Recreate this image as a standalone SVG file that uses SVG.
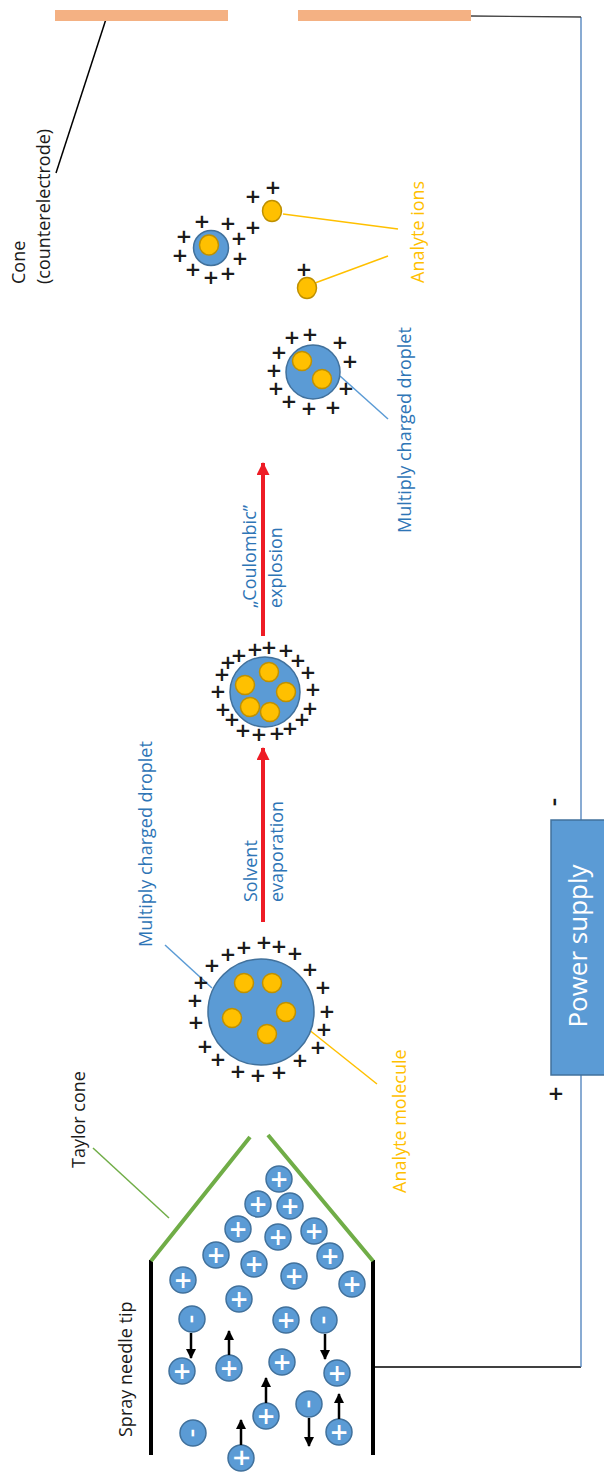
<svg xmlns="http://www.w3.org/2000/svg" width="604" height="1474" viewBox="0 0 604 1474">
  <style>
    .lbl { font-family: "Open Sans", "Liberation Sans", sans-serif; font-size: 18px; }
    .big { font-size: 26px; fill: #ffffff; text-anchor: middle; }
    .blue { fill: #2e75b6; }
    .gold { fill: #ffc000; }
    .dark { fill: #1a1a1a; }
    .drop { fill: #5b9bd5; stroke: #41719c; stroke-width: 1.5; }
    .mol { fill: #ffc000; stroke: #bf9000; stroke-width: 1.5; }
    .ion { fill: #5b9bd5; stroke: #41719c; stroke-width: 1.5; }
    .chg { font-family: "Open Sans", "Liberation Sans", sans-serif; font-size: 26px; font-weight: 600; fill: #1a1a1a; text-anchor: middle; }
    .ichg { font-family: "Open Sans", "Liberation Sans", sans-serif; font-size: 30px; font-weight: 600; fill: #ffffff; text-anchor: middle; }
    .imin { font-family: "Open Sans", "Liberation Sans", sans-serif; font-size: 26px; font-weight: 600; fill: #ffffff; text-anchor: middle; }
    .ptr { fill: none; stroke-width: 1.5; }
    .wire { fill: none; stroke-width: 1.3; }
    .move { stroke: #000; stroke-width: 2.5; marker-end: url(#headBlack); }
    .step { stroke: #ee1c25; stroke-width: 4; marker-end: url(#headRed); }
  </style>
  <defs>
    <marker id="headBlack" markerUnits="userSpaceOnUse" markerWidth="10" markerHeight="10" refX="9" refY="5" orient="auto">
      <path d="M0,0 L10,5 L0,10 z" fill="#000"/>
    </marker>
    <marker id="headRed" markerUnits="userSpaceOnUse" markerWidth="13" markerHeight="13" refX="12" refY="6.5" orient="auto">
      <path d="M0,0 L13,6.5 L0,13 z" fill="#ee1c25"/>
    </marker>
  </defs>

  <rect width="604" height="1474" fill="#ffffff"/>

  <!-- connectors: wires, leader lines and process arrows -->
  <g id="connectors">
    <path class="wire" stroke="#000" d="M373,1367 H581"/>
    <path class="wire" stroke="#4a7ebb" d="M581,1367 V17"/>
    <path class="wire" stroke="#404040" d="M471,16 L581,17"/>
    <path class="ptr" stroke="#000" stroke-width="1" d="M56,173 L107,16"/>
    <path class="ptr" stroke="#70ad47" d="M93,1148 L169,1218"/>
    <path class="ptr" stroke="#5b9bd5" d="M165,945 L212,988"/>
    <path class="ptr" stroke="#5b9bd5" d="M340,376 L388,419"/>
    <path class="ptr" stroke="#ffc000" d="M293,1017 L377,1084"/>
    <path class="ptr" stroke="#ffc000" stroke-width="2" d="M283,214 L398,229"/>
    <path class="ptr" stroke="#ffc000" stroke-width="2" d="M315,283 L388,256"/>
    <line class="step" x1="263" y1="922" x2="263" y2="748"/>
    <line class="step" x1="263" y1="636" x2="263" y2="463"/>
  </g>

  <!-- counter electrode (cone) -->
  <g id="cone">
    <rect x="55" y="10" width="173" height="11" fill="#f4b183"/>
    <rect x="298" y="10" width="173" height="11" fill="#f4b183"/>
    <text class="lbl dark" transform="translate(25,284) rotate(-90)">Cone</text>
    <text class="lbl dark" transform="translate(50,284) rotate(-90)">(counterelectrode)</text>
  </g>

  <!-- power supply -->
  <g id="power-supply">
    <rect x="551" y="820" width="60" height="255" fill="#5b9bd5" stroke="#41719c" stroke-width="1.5"/>
    <text class="lbl big" transform="translate(587,946) rotate(-90)">Power supply</text>
    <text class="chg" transform="translate(562,802) rotate(-90)">-</text>
    <text class="chg" x="556" y="1103">+</text>
  </g>

  <!-- spray needle with Taylor cone -->
  <g id="needle">
    <line x1="151" y1="1260" x2="151" y2="1455" stroke="#000" stroke-width="4"/>
    <line x1="373" y1="1260" x2="373" y2="1455" stroke="#000" stroke-width="4"/>
    <text class="lbl dark" transform="translate(132,1437) rotate(-90)">Spray needle tip</text>
  </g>
  <g id="taylor-cone">
    <path d="M151,1261 L250,1137 M268,1135 L373,1261" stroke="#70ad47" stroke-width="4" fill="none"/>
    <text class="lbl dark" transform="translate(85,1168) rotate(-90)">Taylor cone</text>
  </g>

  <!-- ions in the liquid -->
  <g id="solution-ions">
    <g>
      <circle class="ion" cx="279" cy="1179" r="13"/>
      <circle class="ion" cx="258" cy="1204" r="13"/>
      <circle class="ion" cx="290" cy="1206" r="13"/>
      <circle class="ion" cx="238" cy="1229" r="13"/>
      <circle class="ion" cx="278" cy="1237" r="13"/>
      <circle class="ion" cx="314" cy="1231" r="13"/>
      <circle class="ion" cx="216" cy="1255" r="13"/>
      <circle class="ion" cx="254" cy="1264" r="13"/>
      <circle class="ion" cx="294" cy="1276" r="13"/>
      <circle class="ion" cx="330" cy="1256" r="13"/>
      <circle class="ion" cx="183" cy="1280" r="13"/>
      <circle class="ion" cx="352" cy="1284" r="13"/>
      <circle class="ion" cx="239" cy="1299" r="13"/>
      <circle class="ion" cx="192" cy="1319" r="13"/>
      <circle class="ion" cx="286" cy="1320" r="13"/>
      <circle class="ion" cx="324" cy="1320" r="13"/>
      <circle class="ion" cx="182" cy="1371" r="13"/>
      <circle class="ion" cx="229" cy="1368" r="13"/>
      <circle class="ion" cx="282" cy="1362" r="13"/>
      <circle class="ion" cx="337" cy="1373" r="13"/>
      <circle class="ion" cx="266" cy="1416" r="13"/>
      <circle class="ion" cx="309" cy="1404" r="13"/>
      <circle class="ion" cx="339" cy="1432" r="13"/>
      <circle class="ion" cx="193" cy="1433" r="13"/>
      <circle class="ion" cx="241" cy="1458" r="13"/>
    </g>
    <g transform="translate(0,11)">
      <text class="ichg" x="279 258 290 238 278 314 216 254 294 330 183 352 239 286 182 229 282 337 266 339" y="1179 1204 1206 1229 1237 1231 1255 1264 1276 1256 1280 1284 1299 1320 1371 1368 1362 1373 1416 1432">++++++++++++++++++++</text>
    </g>
    <!-- the lowest ion sits at the page edge: its sign is set sideways -->
    <text class="ichg" transform="translate(252,1458) rotate(-90)">+</text>
    <text class="imin" transform="translate(199,1319) rotate(-90)">-</text>
    <text class="imin" transform="translate(331,1320) rotate(-90)">-</text>
    <text class="imin" transform="translate(316,1404) rotate(-90)">-</text>
    <text class="imin" transform="translate(200,1433) rotate(-90)">-</text>
    <line class="move" x1="191" y1="1333" x2="191" y2="1358"/>
    <line class="move" x1="229" y1="1355" x2="229" y2="1331"/>
    <line class="move" x1="325" y1="1334" x2="325" y2="1359"/>
    <line class="move" x1="266" y1="1403" x2="266" y2="1378"/>
    <line class="move" x1="309" y1="1418" x2="309" y2="1446"/>
    <line class="move" x1="339" y1="1419" x2="339" y2="1394"/>
    <line class="move" x1="241" y1="1445" x2="241" y2="1420"/>
  </g>

  <!-- large charged droplet -->
  <g id="droplet-large">
    <circle class="drop" cx="261" cy="1012" r="53"/>
    <circle class="mol" cx="244" cy="983" r="9.5"/>
    <circle class="mol" cx="272" cy="983" r="9.5"/>
    <circle class="mol" cx="232" cy="1018" r="9.5"/>
    <circle class="mol" cx="286" cy="1012" r="9.5"/>
    <circle class="mol" cx="267" cy="1034" r="9.5"/>
    <g transform="translate(0,9.5)">
      <text class="chg" x="264 279 244 228 295 212 310 201 323 195 327 196 324 205 318 218 300 238 258 279" y="942 946 947 954 953 965 969 982 987 1000 1011 1022 1029 1046 1047 1059 1060 1071 1075 1072">++++++++++++++++++++</text>
    </g>
  </g>

  <!-- droplet after solvent evaporation -->
  <g id="droplet-medium">
    <circle class="drop" cx="265" cy="692" r="35"/>
    <circle class="mol" cx="269" cy="672" r="9.5"/>
    <circle class="mol" cx="245" cy="685" r="9.5"/>
    <circle class="mol" cx="286" cy="692" r="9.5"/>
    <circle class="mol" cx="250" cy="707" r="9.5"/>
    <circle class="mol" cx="270" cy="712" r="9.5"/>
    <g transform="translate(0,9.5)">
      <text class="chg" x="269 255 286 239 298 228 308 222 313 218 310 223 302 232 290 243 259 277" y="647 649 650 655 660 662 672 674 689 691 708 709 719 719 728 730 734 733">++++++++++++++++++</text>
    </g>
  </g>

  <!-- droplet after Coulomb explosion -->
  <g id="droplet-small">
    <circle class="drop" cx="313" cy="372" r="27"/>
    <circle class="mol" cx="302" cy="361" r="9.5"/>
    <circle class="mol" cx="322" cy="379" r="9.5"/>
    <g transform="translate(0,9.5)">
      <text class="chg" x="310 292 340 279 350 274 346 276 289 333 309" y="334 337 342 352 361 370 388 388 401 407 408">+++++++++++</text>
    </g>
  </g>

  <!-- smallest droplet and free analyte ions -->
  <g id="droplet-tiny">
    <circle class="drop" cx="211" cy="248" r="17.5"/>
    <ellipse class="mol" cx="209" cy="245" rx="9.5" ry="10"/>
    <g transform="translate(0,9.5)">
      <text class="chg" x="202 228 184 239 180 240 193 228 211" y="221 223 236 238 255 258 269 273 277">+++++++++</text>
    </g>
  </g>
  <g id="analyte-ions">
    <ellipse class="mol" cx="272" cy="211" rx="9.5" ry="10.5"/>
    <ellipse class="mol" cx="307" cy="288" rx="9.5" ry="10.5"/>
    <g transform="translate(0,9.5)">
      <text class="chg" x="253 273 253 304" y="196 187 227 269">++++</text>
    </g>
    <text class="lbl gold" transform="translate(424,283) rotate(-90)">Analyte ions</text>
  </g>

  <!-- labels -->
  <g id="labels">
    <text class="lbl blue" transform="translate(411,533) rotate(-90)">Multiply charged droplet</text>
    <text class="lbl blue" transform="translate(152,947) rotate(-90)">Multiply charged droplet</text>
    <text class="lbl blue" transform="translate(256,608) rotate(-90)">„Coulombic”</text>
    <text class="lbl blue" transform="translate(282,608) rotate(-90)">explosion</text>
    <text class="lbl blue" transform="translate(257,902) rotate(-90)">Solvent</text>
    <text class="lbl blue" transform="translate(283,902) rotate(-90)">evaporation</text>
    <text class="lbl gold" transform="translate(406,1193) rotate(-90)">Analyte molecule</text>
  </g>
</svg>
